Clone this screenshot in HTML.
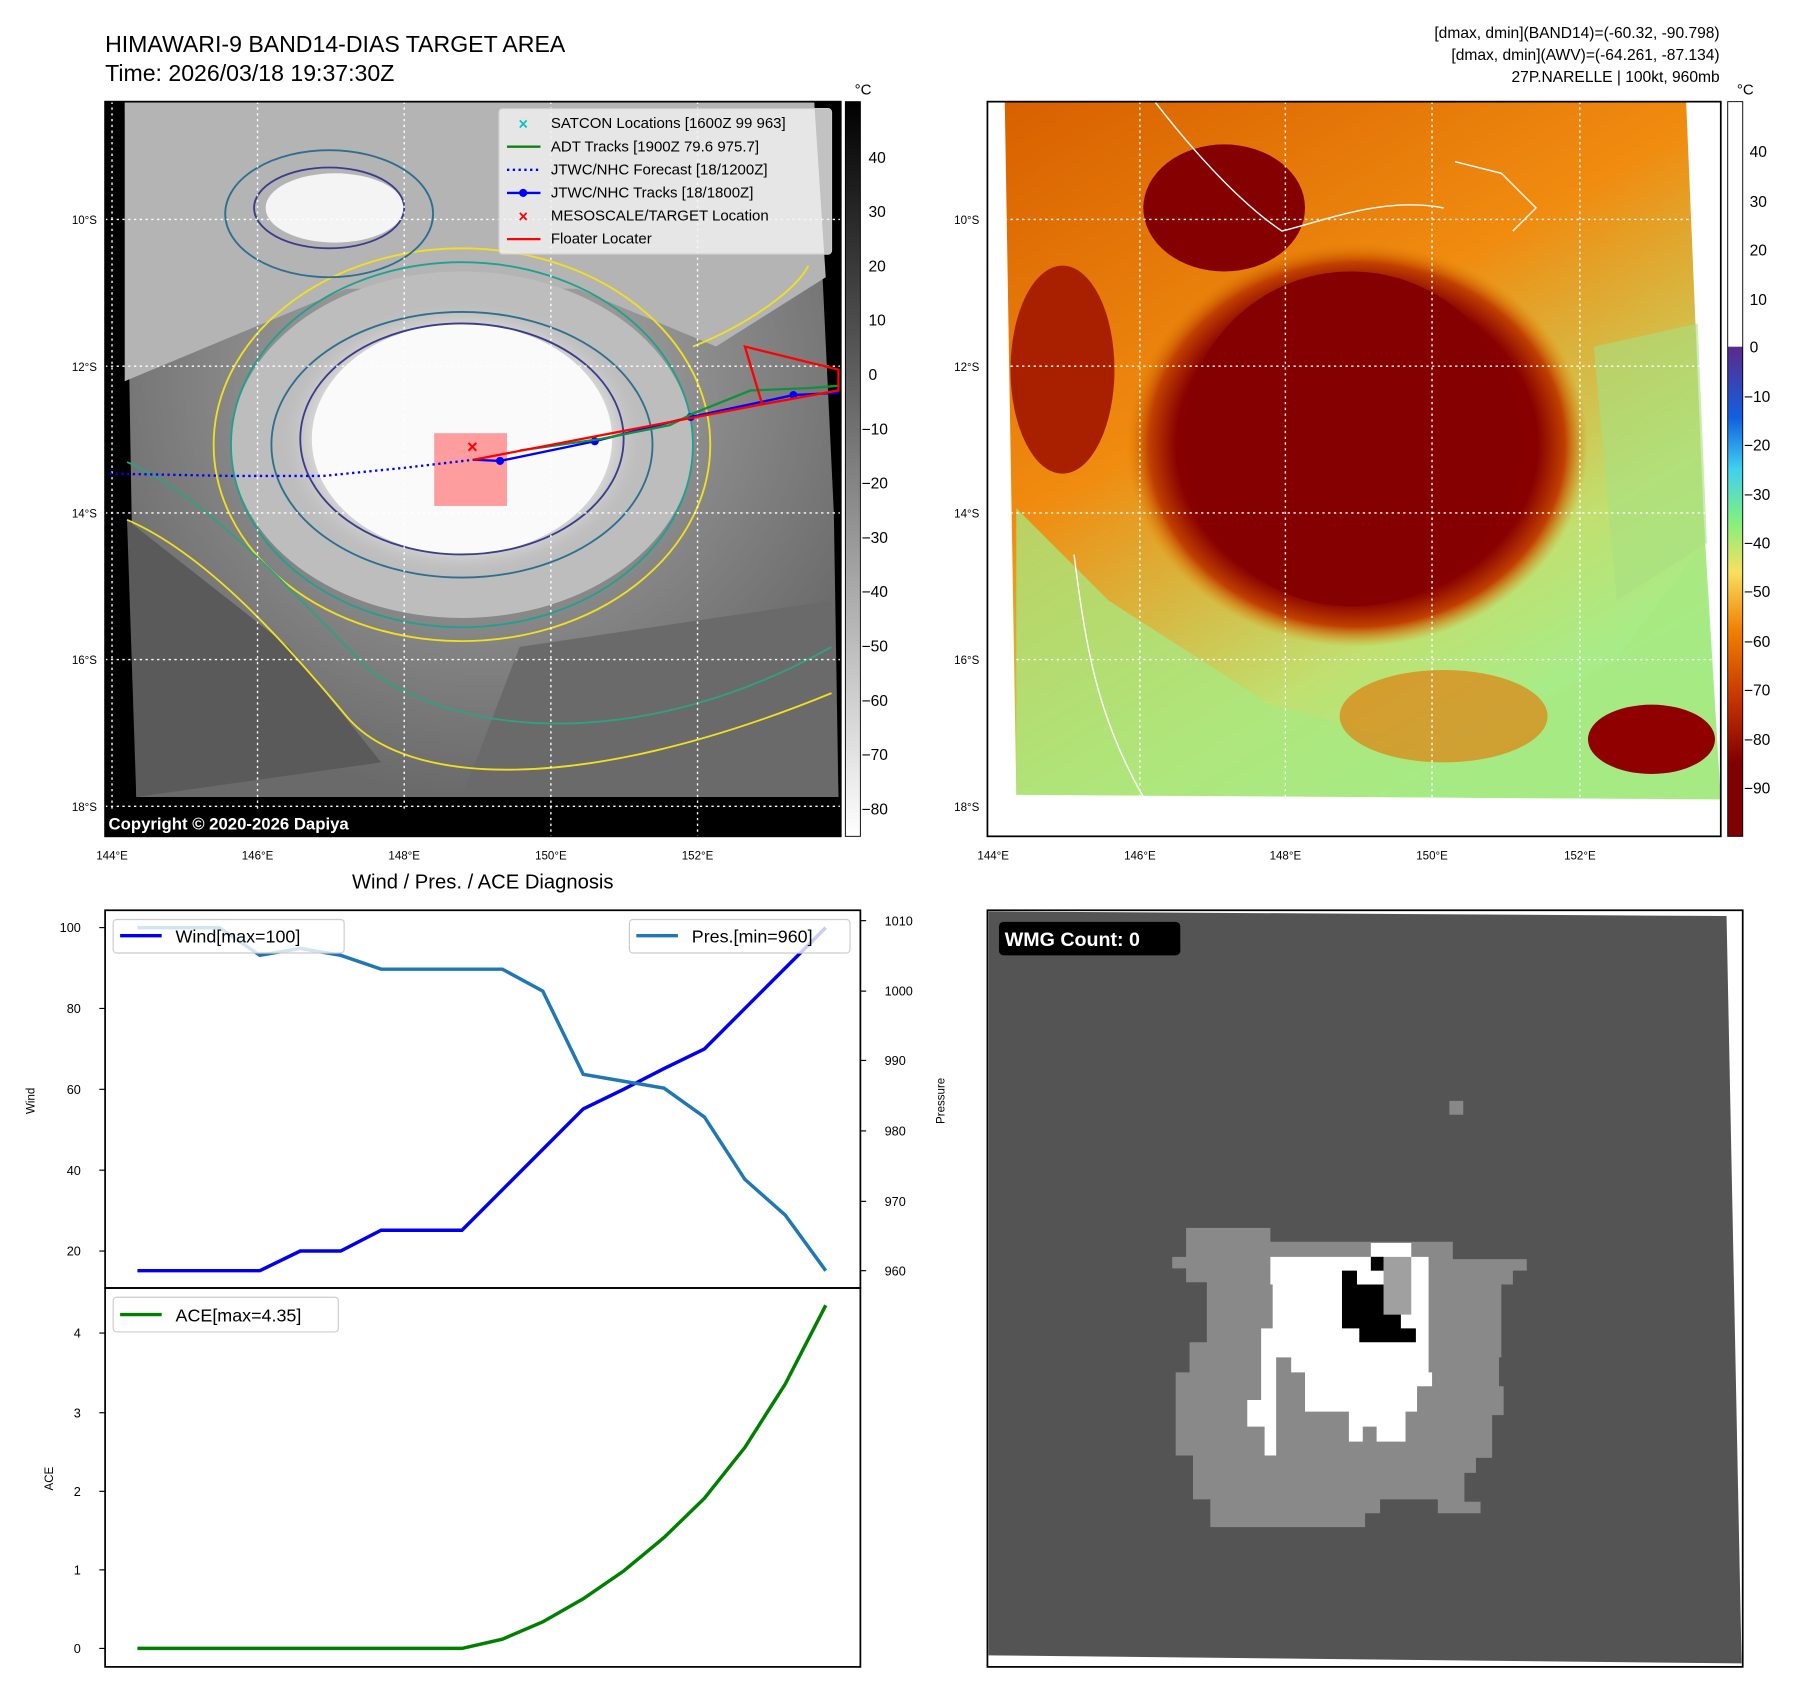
<!DOCTYPE html>
<html><head><meta charset="utf-8"><style>html,body{margin:0;padding:0;background:#fff}svg{display:block}text{font-family:"Liberation Sans","DejaVu Sans",sans-serif}</style></head>
<body>
<svg width="1797" height="1690" viewBox="0 0 1556 1463" preserveAspectRatio="none" xmlns="http://www.w3.org/2000/svg">
<defs>
<radialGradient id="cloud" cx="0.5" cy="0.5" r="0.5">
<stop offset="0" stop-color="#fff"/><stop offset="0.55" stop-color="#f4f4f4"/><stop offset="0.8" stop-color="#d8d8d8"/><stop offset="1" stop-color="#bcbcbc" stop-opacity="0"/></radialGradient>
<linearGradient id="gbar" x1="0" y1="0" x2="0" y2="1"><stop offset="0" stop-color="#000"/><stop offset="1" stop-color="#fff"/></linearGradient>
<linearGradient id="cbar" x1="0" y1="0" x2="0" y2="1">
<stop offset="0" stop-color="#fff"/><stop offset="0.333" stop-color="#fff"/><stop offset="0.334" stop-color="#5b2a8c"/><stop offset="0.43" stop-color="#1060e0"/><stop offset="0.5" stop-color="#40d0f0"/><stop offset="0.57" stop-color="#80f080"/><stop offset="0.64" stop-color="#f8e060"/><stop offset="0.72" stop-color="#f08000"/><stop offset="0.82" stop-color="#c03000"/><stop offset="0.9" stop-color="#800000"/><stop offset="1" stop-color="#800000"/></linearGradient>
<radialGradient id="dark" cx="0.5" cy="0.5" r="0.5"><stop offset="0" stop-color="#800000"/><stop offset="0.78" stop-color="#880000"/><stop offset="0.9" stop-color="#c04000"/><stop offset="1" stop-color="#e08000" stop-opacity="0"/></radialGradient>
<linearGradient id="rbase" x1="0" y1="0" x2="0.6" y2="1"><stop offset="0" stop-color="#d86000"/><stop offset="0.45" stop-color="#f08c10"/><stop offset="0.8" stop-color="#c0e070"/><stop offset="1" stop-color="#a0f090"/></linearGradient>
<radialGradient id="grayc" cx="0.5" cy="0.4" r="0.6"><stop offset="0" stop-color="#b0b0b0"/><stop offset="1" stop-color="#6a6a6a"/></radialGradient>
</defs>

<text x="91" y="45" font-size="20">HIMAWARI-9 BAND14-DIAS TARGET AREA</text>
<text x="91" y="70" font-size="20">Time: 2026/03/18 19:37:30Z</text>
<g font-size="13.5" text-anchor="end"><text x="1489" y="33">[dmax, dmin](BAND14)=(-60.32, -90.798)</text><text x="1489" y="52">[dmax, dmin](AWV)=(-64.261, -87.134)</text><text x="1489" y="71">27P.NARELLE | 100kt, 960mb</text></g>

<!-- left map -->
<rect x="91" y="88" width="637" height="636" fill="#000"/>
<polygon points="108,88 705,88 722,444 726,690 118,690" fill="url(#grayc)"/>
<polygon points="108,88 705,88 715,240 620,300 500,250 300,250 108,330" fill="#b4b4b4"/>
<polygon points="110,450 250,560 330,660 118,690" fill="#5a5a5a"/>
<polygon points="450,560 720,520 726,690 400,690" fill="#6a6a6a"/>
<ellipse cx="400" cy="385" rx="200" ry="150" fill="#bdbdbd"/>
<ellipse cx="400" cy="380" rx="160" ry="120" fill="url(#cloud)"/>
<ellipse cx="400" cy="380" rx="130" ry="100" fill="#fafafa"/>
<ellipse cx="290" cy="180" rx="60" ry="30" fill="#f4f4f4"/>
<g fill="none" stroke-width="1.6">
<ellipse cx="400" cy="385" rx="215" ry="170" stroke="#f0e020"/>
<ellipse cx="400" cy="385" rx="200" ry="158" stroke="#20a090"/>
<ellipse cx="400" cy="385" rx="165" ry="115" stroke="#2e6f8e"/>
<ellipse cx="400" cy="380" rx="140" ry="100" stroke="#3b3d8a"/>
<ellipse cx="285" cy="180" rx="65" ry="35" stroke="#3b3d8a"/>
<ellipse cx="285" cy="185" rx="90" ry="55" stroke="#2e6f8e"/>
<path d="M110,450 C180,480 250,560 300,620 C350,680 500,690 720,600" stroke="#f0e020"/>
<path d="M110,400 C180,430 260,520 320,580 C400,640 560,650 720,560" stroke="#30a080"/>
<path d="M600,300 C650,280 690,250 700,230" stroke="#f0e020"/>
</g>
<g stroke="#fff" stroke-dasharray="2,3" stroke-width="1.2">
<line x1="91" y1="190" x2="728" y2="190"/><line x1="91" y1="317" x2="728" y2="317"/><line x1="91" y1="444" x2="728" y2="444"/><line x1="91" y1="571" x2="728" y2="571"/><line x1="91" y1="698" x2="728" y2="698"/>
<line x1="97" y1="88" x2="97" y2="724"/><line x1="223" y1="88" x2="223" y2="724"/><line x1="350" y1="88" x2="350" y2="724"/><line x1="477" y1="88" x2="477" y2="724"/><line x1="604" y1="88" x2="604" y2="724"/>
</g>
<rect x="376" y="375" width="63" height="63" fill="#ff5050" opacity="0.55"/>
<polyline points="95,410 200,412 280,412 350,405 410,398" fill="none" stroke="#0000ff" stroke-width="2" stroke-dasharray="2,3"/>
<polyline points="410,398 433,399 515,382 598,361 687,342 726,340" fill="none" stroke="#0000ff" stroke-width="2"/>
<g fill="#0000ff"><circle cx="433" cy="399" r="3.5"/><circle cx="515" cy="382" r="3.5"/><circle cx="598" cy="361" r="3.5"/><circle cx="687" cy="342" r="3.5"/></g>
<polyline points="450,390 520,380 580,368 600,358 650,338 700,336 726,334" fill="none" stroke="#109040" stroke-width="2"/>
<polyline points="410,398 660,350 645,300 726,320 726,338 660,350" fill="none" stroke="#ff0000" stroke-width="2"/>
<text x="409" y="392" font-size="16" fill="#ff0000" text-anchor="middle" font-weight="bold">×</text>
<rect x="432" y="94" width="288" height="126" rx="3" fill="#f2f2f2" fill-opacity="0.8" stroke="#ccc"/>
<g font-size="13"><text x="477" y="111">SATCON Locations [1600Z 99 963]</text><text x="477" y="131">ADT Tracks [1900Z 79.6 975.7]</text><text x="477" y="151">JTWC/NHC Forecast [18/1200Z]</text><text x="477" y="171">JTWC/NHC Tracks [18/1800Z]</text><text x="477" y="191">MESOSCALE/TARGET Location</text><text x="477" y="211">Floater Locater</text></g>
<text x="453" y="112" font-size="14" fill="#10c0c0" text-anchor="middle" font-weight="bold">×</text>
<line x1="439" y1="127" x2="468" y2="127" stroke="#108010" stroke-width="2"/>
<line x1="439" y1="147" x2="468" y2="147" stroke="#0000ff" stroke-width="2" stroke-dasharray="2,3"/>
<line x1="439" y1="167" x2="468" y2="167" stroke="#0000ff" stroke-width="2"/><circle cx="453" cy="167" r="3.5" fill="#0000ff"/>
<text x="453" y="192" font-size="14" fill="#f00" text-anchor="middle" font-weight="bold">×</text>
<line x1="439" y1="207" x2="468" y2="207" stroke="#f00" stroke-width="2"/>
<rect x="91" y="702" width="270" height="22" fill="#000"/>
<text x="94" y="718" font-size="14.5" fill="#fff" font-weight="bold">Copyright © 2020-2026 Dapiya</text>
<rect x="91" y="88" width="637" height="636" fill="none" stroke="#000" stroke-width="1.5"/>
<rect x="732" y="88" width="13" height="636" fill="url(#gbar)" stroke="#000" stroke-width="0.8"/>
<text x="740" y="82" font-size="13">°C</text>
<g font-size="13.5"><text x="752" y="141">40</text><text x="752" y="188">30</text><text x="752" y="235">20</text><text x="752" y="282">10</text><text x="752" y="329">0</text><text x="746" y="376">−10</text><text x="746" y="423">−20</text><text x="746" y="470">−30</text><text x="746" y="517">−40</text><text x="746" y="564">−50</text><text x="746" y="611">−60</text><text x="746" y="658">−70</text><text x="746" y="705">−80</text></g>
<g font-size="10" text-anchor="end"><text x="84" y="194">10°S</text><text x="84" y="321">12°S</text><text x="84" y="448">14°S</text><text x="84" y="575">16°S</text><text x="84" y="702">18°S</text>
<text x="848" y="194">10°S</text><text x="848" y="321">12°S</text><text x="848" y="448">14°S</text><text x="848" y="575">16°S</text><text x="848" y="702">18°S</text></g>
<g font-size="10" text-anchor="middle"><text x="97" y="744">144°E</text><text x="223" y="744">146°E</text><text x="350" y="744">148°E</text><text x="477" y="744">150°E</text><text x="604" y="744">152°E</text>
<text x="860" y="744">144°E</text><text x="987" y="744">146°E</text><text x="1113" y="744">148°E</text><text x="1240" y="744">150°E</text><text x="1368" y="744">152°E</text></g>

<!-- right map -->
<rect x="855" y="88" width="635" height="636" fill="#fff"/>
<polygon points="870,88 1460,88 1475,444 1490,692 880,688" fill="url(#rbase)"/>
<polygon points="880,440 960,520 1100,610 1250,650 1400,570 1475,470 1490,692 880,688" fill="#a8e880" opacity="0.75"/>
<polygon points="1380,300 1470,280 1478,470 1400,520" fill="#a8e080" opacity="0.6"/>
<ellipse cx="1175" cy="385" rx="200" ry="175" fill="url(#dark)"/>
<ellipse cx="1170" cy="380" rx="145" ry="145" fill="#850000"/>
<ellipse cx="1060" cy="180" rx="70" ry="55" fill="#850000"/>
<ellipse cx="1430" cy="640" rx="55" ry="30" fill="#900000"/>
<ellipse cx="920" cy="320" rx="45" ry="90" fill="#a82000"/>
<ellipse cx="1250" cy="620" rx="90" ry="40" fill="#e08010" opacity="0.7"/>
<g fill="none" stroke="#fff" stroke-width="1.2"><path d="M1000,88 C1040,140 1080,180 1110,200 C1150,190 1200,170 1250,180 1300,200 1320,210"/><path d="M1260,140 L1300,150 1330,180 1310,200"/><path d="M930,480 C940,560 950,620 990,690"/></g>
<g stroke="#fff" stroke-dasharray="2,3" stroke-width="1.2">
<line x1="855" y1="190" x2="1490" y2="190"/><line x1="855" y1="317" x2="1490" y2="317"/><line x1="855" y1="444" x2="1490" y2="444"/><line x1="855" y1="571" x2="1490" y2="571"/><line x1="855" y1="698" x2="1490" y2="698"/>
<line x1="987" y1="88" x2="987" y2="724"/><line x1="1113" y1="88" x2="1113" y2="724"/><line x1="1240" y1="88" x2="1240" y2="724"/><line x1="1368" y1="88" x2="1368" y2="724"/>
</g>
<rect x="855" y="88" width="635" height="636" fill="none" stroke="#000" stroke-width="1.5"/>
<rect x="1496" y="88" width="13" height="636" fill="url(#cbar)" stroke="#000" stroke-width="0.8"/>
<text x="1504" y="82" font-size="13">°C</text>
<g font-size="13.5"><text x="1515" y="136">40</text><text x="1515" y="179">30</text><text x="1515" y="221">20</text><text x="1515" y="264">10</text><text x="1515" y="305">0</text><text x="1510" y="348">−10</text><text x="1510" y="390">−20</text><text x="1510" y="433">−30</text><text x="1510" y="475">−40</text><text x="1510" y="517">−50</text><text x="1510" y="560">−60</text><text x="1510" y="602">−70</text><text x="1510" y="645">−80</text><text x="1510" y="687">−90</text></g>

<!-- diagnosis -->
<text x="418" y="769" font-size="17.5" text-anchor="middle">Wind / Pres. / ACE Diagnosis</text>
<rect x="91" y="788" width="654" height="327" fill="none" stroke="#000" stroke-width="1.5"/>
<rect x="91" y="1115" width="654" height="328" fill="none" stroke="#000" stroke-width="1.5"/>
<g font-size="11" text-anchor="end"><text x="70" y="807">100</text><text x="70" y="877">80</text><text x="70" y="947">60</text><text x="70" y="1017">40</text><text x="70" y="1087">20</text>
<text x="70" y="1158">4</text><text x="70" y="1227">3</text><text x="70" y="1295">2</text><text x="70" y="1363">1</text><text x="70" y="1431">0</text></g>
<g stroke="#000"><line x1="86" y1="803" x2="91" y2="803"/><line x1="86" y1="873" x2="91" y2="873"/><line x1="86" y1="943" x2="91" y2="943"/><line x1="86" y1="1013" x2="91" y2="1013"/><line x1="86" y1="1083" x2="91" y2="1083"/>
<line x1="86" y1="1154" x2="91" y2="1154"/><line x1="86" y1="1223" x2="91" y2="1223"/><line x1="86" y1="1291" x2="91" y2="1291"/><line x1="86" y1="1359" x2="91" y2="1359"/><line x1="86" y1="1427" x2="91" y2="1427"/>
<line x1="745" y1="797" x2="750" y2="797"/><line x1="745" y1="858" x2="750" y2="858"/><line x1="745" y1="918" x2="750" y2="918"/><line x1="745" y1="979" x2="750" y2="979"/><line x1="745" y1="1040" x2="750" y2="1040"/><line x1="745" y1="1100" x2="750" y2="1100"/></g>
<g font-size="11"><text x="766" y="801">1010</text><text x="766" y="862">1000</text><text x="766" y="922">990</text><text x="766" y="983">980</text><text x="766" y="1044">970</text><text x="766" y="1104">960</text></g>
<text transform="translate(30,953) rotate(-90)" font-size="10" text-anchor="middle">Wind</text>
<text transform="translate(46,1280) rotate(-90)" font-size="10" text-anchor="middle">ACE</text>
<text transform="translate(818,953) rotate(-90)" font-size="10" text-anchor="middle">Pressure</text>
<polyline fill="none" stroke="#0000ee" stroke-width="3" points="119,1100 155,1100 190,1100 225,1100 260,1083 295,1083 330,1065 365,1065 400,1065 435,1030 470,995 505,960 540,943 575,925 610,908 645,873 680,838 715,803"/>
<polyline fill="none" stroke="#1f77b4" stroke-width="3" points="119,803 155,803 190,803 225,827 260,821 295,827 330,839 365,839 400,839 435,839 470,858 505,930 540,936 575,942 610,967 645,1021 680,1052 715,1100"/>
<polyline fill="none" stroke="#008000" stroke-width="3" points="119,1427 155,1427 190,1427 225,1427 260,1427 295,1427 330,1427 365,1427 400,1427 435,1419 470,1404 505,1384 540,1360 575,1331 610,1297 645,1253 680,1198 715,1130"/>
<rect x="98" y="796" width="200" height="29" rx="3" fill="#fff" fill-opacity="0.8" stroke="#ccc"/>
<line x1="104" y1="810" x2="140" y2="810" stroke="#0000ee" stroke-width="3"/><text x="152" y="816" font-size="15.5">Wind[max=100]</text>
<rect x="545" y="796" width="191" height="29" rx="3" fill="#fff" fill-opacity="0.8" stroke="#ccc"/>
<line x1="551" y1="810" x2="587" y2="810" stroke="#1f77b4" stroke-width="3"/><text x="599" y="816" font-size="15.5">Pres.[min=960]</text>
<rect x="98" y="1123" width="195" height="30" rx="3" fill="#fff" fill-opacity="0.8" stroke="#ccc"/>
<line x1="104" y1="1138" x2="140" y2="1138" stroke="#008000" stroke-width="3"/><text x="152" y="1144" font-size="15.5">ACE[max=4.35]</text>

<!-- WMG -->
<rect x="855" y="788" width="654" height="655" fill="#fff" stroke="#000" stroke-width="1.5"/>
<polygon points="856,789 1495,793 1508,1440 856,1433" fill="#545454"/>
<rect x="1255" y="953" width="12" height="12" fill="#888"/>
<polygon points="1027,1063 1100,1063 1100,1075 1258,1075 1258,1090 1322,1090 1322,1100 1310,1100 1310,1112 1300,1112 1300,1175 1298,1175 1298,1200 1302,1200 1302,1225 1292,1225 1292,1262 1278,1262 1278,1275 1268,1275 1268,1300 1282,1300 1282,1310 1245,1310 1245,1298 1195,1298 1195,1310 1182,1310 1182,1322 1048,1322 1048,1298 1033,1298 1033,1260 1018,1260 1018,1188 1030,1188 1030,1162 1045,1162 1045,1110 1027,1110 1027,1098 1015,1098 1015,1088 1027,1088" fill="#898989"/>
<polygon points="1100,1088 1187,1088 1187,1076 1222,1076 1222,1088 1237,1088 1237,1188 1240,1188 1240,1200 1227,1200 1227,1222 1217,1222 1217,1248 1192,1248 1192,1235 1180,1235 1180,1248 1168,1248 1168,1222 1130,1222 1130,1188 1118,1188 1118,1175 1105,1175 1105,1260 1095,1260 1095,1235 1080,1235 1080,1212 1092,1212 1092,1150 1102,1150 1102,1112 1100,1112" fill="#fff"/>
<polygon points="1198,1088 1222,1088 1222,1138 1198,1138" fill="#a0a0a0"/>
<polygon points="1162,1100 1175,1100 1175,1112 1198,1112 1198,1138 1213,1138 1213,1150 1226,1150 1226,1162 1177,1162 1177,1150 1162,1150" fill="#000"/>
<rect x="1187" y="1088" width="11" height="12" fill="#000"/>
<rect x="865" y="798" width="157" height="29" rx="4" fill="#000"/>
<text x="870" y="819" font-size="17" fill="#fff" font-weight="bold">WMG Count: 0</text>
</svg>
</body></html>
